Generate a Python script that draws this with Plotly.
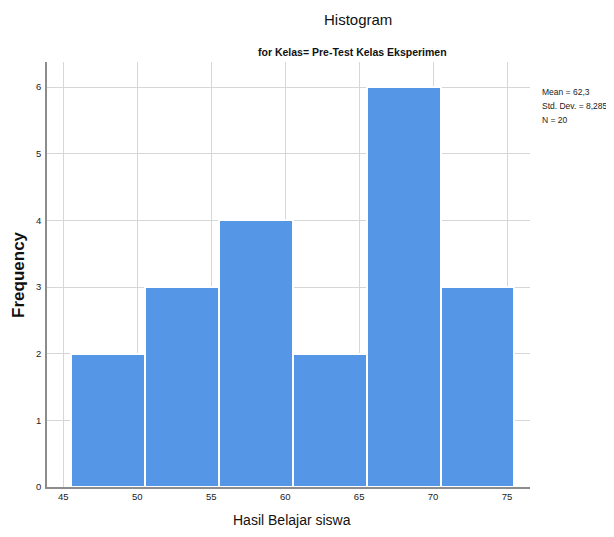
import plotly.graph_objects as go

bin_centers = [48, 53, 58, 63, 68, 73]
frequencies = [2, 3, 4, 2, 6, 3]
x_ticks = [45, 50, 55, 60, 65, 70, 75]
y_ticks = [0, 1, 2, 3, 4, 5, 6]
stats_lines = ["Mean = 62,3", "Std. Dev. = 8,285", "N = 20"]

FONT = "Liberation Sans Narrow, Arial Narrow, Liberation Sans, Arial, sans-serif"

fig = go.Figure(go.Bar(
    x=bin_centers, y=frequencies, width=5,
    marker=dict(color="#5596E6", line=dict(color="white", width=2)),
    hoverinfo="x+y",
))

annotations = [
    dict(text="Histogram", xref="paper", yref="paper", x=(358 - 47) / 483, y=(487 - 20) / 425,
         showarrow=False, font=dict(size=15, family=FONT, color="#111111"),
         xanchor="center", yanchor="middle"),
    dict(text="<b>for Kelas= Pre-Test Kelas Eksperimen</b>", xref="paper", yref="paper",
         x=(352 - 47) / 483, y=(487 - 52) / 425, showarrow=False,
         font=dict(size=10.5, family=FONT, color="#111111"),
         xanchor="center", yanchor="middle"),
    dict(text="<b>Frequency</b>", xref="paper", yref="paper", x=(19 - 47) / 483, y=0.499,
         textangle=-90, showarrow=False,
         font=dict(size=17, family="Liberation Sans, Arial, sans-serif", color="#111111"),
         xanchor="center", yanchor="middle"),
    dict(text="Hasil Belajar siswa", xref="paper", yref="paper", x=(292 - 47) / 483,
         y=(487 - 520) / 425, showarrow=False,
         font=dict(size=14, family=FONT, color="#111111"),
         xanchor="center", yanchor="middle"),
]
for i, line in enumerate(stats_lines):
    annotations.append(dict(
        text=line, xref="paper", yref="paper", x=(540 - 47) / 483,
        y=(487 - (92 + 14 * i)) / 425, showarrow=False, align="left",
        font=dict(size=8.5, family=FONT, color="#222222"),
        xanchor="left", yanchor="middle"))

fig.update_layout(
    width=598, height=521,
    margin=dict(l=39, r=76, t=54, b=42),
    paper_bgcolor="white", plot_bgcolor="white",
    showlegend=False,
    font=dict(family=FONT, color="#222222", size=9),
    bargap=0,
    xaxis=dict(range=[43.9, 76.55], tickvals=x_ticks, showgrid=True,
               gridcolor="#d6d6d6", gridwidth=1, showline=True,
               linecolor="#8c8c8c", linewidth=1.5, ticks="", zeroline=False,
               tickfont=dict(size=9.5, family=FONT)),
    yaxis=dict(range=[0, 6.375], tickvals=y_ticks, showgrid=True,
               gridcolor="#d6d6d6", gridwidth=1, showline=True,
               linecolor="#8c8c8c", linewidth=1.5, ticks="", zeroline=False,
               tickfont=dict(size=9.5, family=FONT), ticklabelstandoff=2),
    annotations=annotations,
)

fig.write_html("out.html")
